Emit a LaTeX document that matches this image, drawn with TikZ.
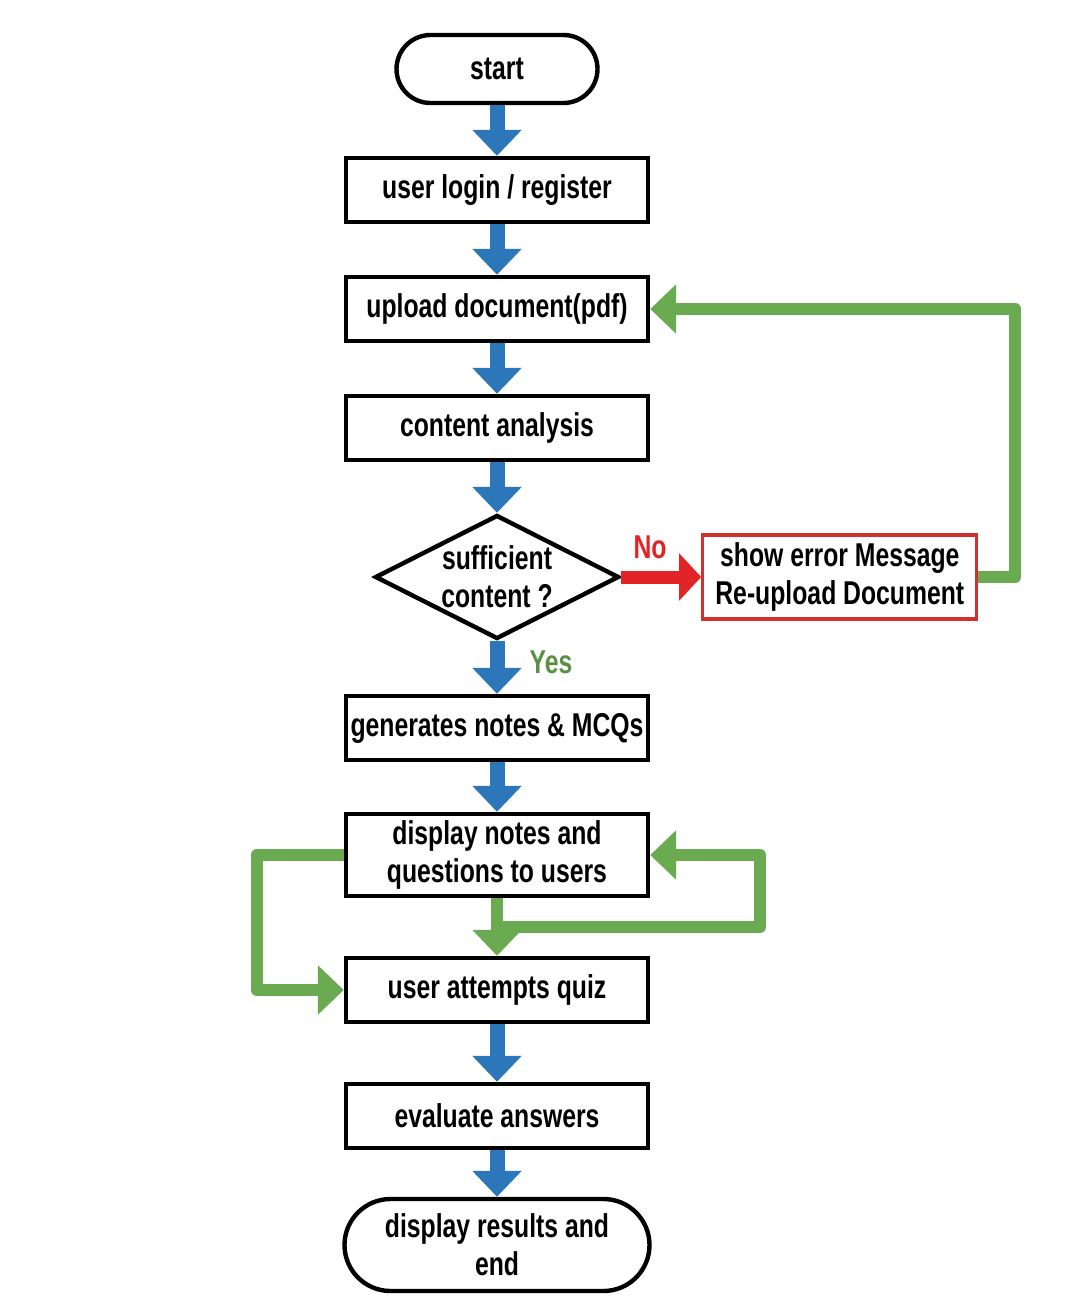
\documentclass[tikz,border=0pt]{standalone}
\usepackage{fontspec}
\setmainfont{Liberation Sans}[FakeStretch=0.75]
\usetikzlibrary{calc,positioning,arrows.meta,shapes.geometric,shapes.misc}
\definecolor{flowblue}{HTML}{2B77B9}
\definecolor{loopgreen}{HTML}{6AAA50}
\definecolor{errred}{HTML}{E02428}
\definecolor{errframe}{HTML}{D0312D}
\tikzset{
  txt/.style={font=\bfseries\fontsize{16.5}{19}\selectfont, align=center},
  box/.style={txt, draw, line width=2.2pt, inner sep=3pt},
  procbox/.style={box, inner xsep=1pt, minimum width=151pt, minimum height=32pt},
  termbox/.style={box, rounded rectangle, minimum height=34pt},
  decision/.style={draw, diamond, line width=2.2pt, minimum width=122pt, minimum height=62pt, inner sep=0pt},
  errbox/.style={box, draw=errframe, line width=1.6pt, minimum width=137pt, minimum height=42pt},
  % block arrows
  down/.style={flowblue, line width=7.5pt, -{Triangle[width=24pt,length=13pt]}},
  loopline/.style={loopgreen, line width=6pt, line join=round, -{Triangle[width=24pt,length=13pt]}},
  noline/.style={errred, line width=6.5pt, -{Triangle[width=23pt,length=11pt]}}
}
\begin{document}
\begin{tikzpicture}[x=0.5pt, y=-0.5pt]
  \useasboundingbox (0,0) rectangle (1079,1296);
  % main column
  \node[termbox, minimum width=106.5pt] (start) at (497,69) {start};
  \node[procbox] (login)    at (497,190)  {user login / register};
  \node[procbox] (upload)   at (497,309)  {upload document(pdf)};
  \node[procbox] (analysis) at (497,428)  {content analysis};
  \node[decision] (check)   at (497,577)  {};
  \node[txt] (checktext)    at (check)    {sufficient\\content ?};
  \node[errbox, right=40pt of check] (error) {show error Message\\Re-upload Document};
  \node[procbox] (generate) at (497,728)  {generates notes \& MCQs};
  \node[procbox, minimum height=41pt] (display) at (497,855) {display notes and\\questions to users};
  \node[procbox] (quiz)     at (497,990)  {user attempts quiz};
  \node[procbox] (evaluate) at (497,1116) {evaluate answers};
  \node[termbox, minimum width=158.5pt, minimum height=46pt] (finish) at (497,1245) {display results and\\end};
  % labels
  \node[txt, text=errred] (nolabel) at (650,547) {No};
  \node[txt, text=loopgreen!85!black] (yeslabel) at (551,662) {Yes};
  % blue flow
  \draw[down] (start.south) -- (login.north);
  \draw[down] (login.south) -- (upload.north);
  \draw[down] (upload.south) -- (analysis.north);
  \draw[down] (analysis.south) -- (check.north);
  \draw[down] (check.south) -- (generate.north);
  \draw[down] (generate.south) -- (display.north);
  \draw[down] (quiz.south) -- (evaluate.north);
  \draw[down] (evaluate.south) -- (finish.north);
  \draw[noline] (check.east) -- (error.west);
  % green loops
  \coordinate (split) at ($(display.south)!0.5!(quiz.north)$);
  \draw[loopline] (error.east) -- ++(18.5pt,0) |- (upload.east);
  \draw[loopline] (display.west) -- ++(-43.5pt,0) |- (quiz.west);
  \draw[loopline] (display.south) -- (quiz.north);
  \draw[loopline] (split) -- ++(131.5pt,0) |- (display.east);
\end{tikzpicture}
\end{document}
